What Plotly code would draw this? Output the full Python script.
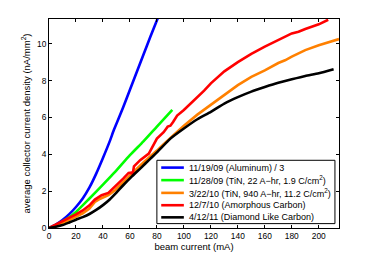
import plotly.graph_objects as go

names = ["11/19/09 (Aluminum) / 3",
         "11/28/09 (TiN, 22 A\u2212hr, 1.9 C/cm<sup>2</sup>)",
         "3/22/10 (TiN, 940 A\u2212hr, 11.2 C/cm<sup>2</sup>)",
         "12/7/10 (Amorphous Carbon)",
         "4/12/11 (Diamond Like Carbon)"]
colors = ["#0000FF", "#00FF00", "#FF8000", "#FF0000", "#000000"]

blue_x = [0, 5, 10, 15, 20, 25, 30, 35, 40, 45, 48, 50, 55, 60, 65, 70, 75, 81]
blue_y = [0, 0.18, 0.43, 0.75, 1.14, 1.6, 2.2, 2.95, 3.8, 4.7, 5.3, 5.65, 6.55, 7.5, 8.45, 9.4, 10.35, 11.45]

green_x = [0, 5, 10, 15, 20, 30, 40, 49, 60, 70, 80, 91.4]
green_y = [0, 0.15, 0.35, 0.58, 0.87, 1.6, 2.35, 3.04, 3.95, 4.7, 5.5, 6.41]

orange_x = [0, 5, 10, 15, 20, 25, 30, 34, 38, 44, 49, 55, 60, 65, 70, 75, 80, 85, 90, 95, 100, 110, 120, 130, 140, 150, 160, 170, 175, 180, 190, 200, 210, 215]
orange_y = [0, 0.1, 0.25, 0.42, 0.6, 0.8, 1.05, 1.41, 1.59, 1.78, 2.05, 2.5, 2.85, 3.2, 3.55, 3.85, 4.2, 4.55, 4.9, 5.25, 5.55, 6.15, 6.7, 7.25, 7.75, 8.2, 8.55, 8.95, 9.1, 9.3, 9.65, 9.92, 10.15, 10.25]

red_x = [0, 5, 10, 15, 20, 25, 30, 34, 39, 44, 49, 55, 59, 61, 62, 63, 67.6, 74, 80, 85, 88, 90, 92, 95, 100, 105, 110, 115, 120, 130, 140, 150, 160, 170, 180, 185, 190, 200, 207]
red_y = [0, 0.18, 0.35, 0.55, 0.74, 0.95, 1.23, 1.54, 1.78, 1.9, 2.23, 2.68, 2.99, 3.0, 2.92, 3.35, 3.68, 4.04, 4.85, 5.2, 5.5, 5.55, 5.75, 6.1, 6.4, 6.75, 7.05, 7.45, 7.85, 8.5, 9.0, 9.45, 9.84, 10.2, 10.56, 10.65, 10.8, 11.05, 11.3]

black_x = [0, 5, 10, 15, 20, 25, 30, 35, 40, 45, 50, 55, 61.5, 68, 75, 80, 90, 100, 110, 120, 130, 140, 150, 160, 170, 180, 190, 200, 211]
black_y = [0, 0.07, 0.16, 0.3, 0.45, 0.59, 0.76, 0.98, 1.24, 1.55, 1.92, 2.32, 2.8, 3.25, 3.75, 4.1, 4.85, 5.4, 5.9, 6.3, 6.75, 7.1, 7.4, 7.65, 7.88, 8.07, 8.25, 8.4, 8.62]

series = [(blue_x, blue_y), (green_x, green_y), (orange_x, orange_y), (red_x, red_y), (black_x, black_y)]
smooth = [True, True, False, False, True]

fig = go.Figure()
for (xs, ys), n, c, s in zip(series, names, colors, smooth):
    fig.add_trace(go.Scatter(x=xs, y=ys, mode="lines", name=n, showlegend=False,
                             line=dict(color=c, width=2.6,
                                       shape="spline" if s else "linear",
                                       smoothing=0.6 if s else None)))

# Manual legend (box, line samples, labels) in paper coordinates
fig.add_shape(type="rect", xref="paper", yref="paper", x0=0.372, x1=0.986,
              y0=0.021, y1=0.324, line=dict(color="black", width=1),
              fillcolor="white", layer="above")
row_y = [0.289, 0.229, 0.168, 0.109, 0.051]
for n, c, yy in zip(names, colors, row_y):
    fig.add_shape(type="line", xref="paper", yref="paper", x0=0.387, x1=0.465,
                  y0=yy, y1=yy, line=dict(color=c, width=2.6), layer="above")
    fig.add_annotation(xref="paper", yref="paper", x=0.475, y=yy, text=n,
                       showarrow=False, xanchor="left", yanchor="middle",
                       font=dict(size=9))

font = "Liberation Sans, Arial, Helvetica, sans-serif"
fig.update_layout(
    width=374, height=256,
    margin=dict(l=49, r=35, t=19, b=28),
    paper_bgcolor="white", plot_bgcolor="white",
    font=dict(family=font, size=8, color="black"),
    showlegend=False,
    xaxis=dict(range=[0, 215], tickvals=list(range(0, 201, 20)),
               ticks="inside", ticklen=3, tickcolor="black",
               showline=True, linecolor="black", linewidth=1, mirror="ticks",
               showgrid=False, zeroline=False, automargin=False,
               tickfont=dict(size=8.4),
               title=dict(text="beam current (mA)", standoff=1, font=dict(size=9.5))),
    yaxis=dict(range=[0, 11.34], tickvals=[0, 2, 4, 6, 8, 10],
               ticks="inside", ticklen=3, tickcolor="black",
               showline=True, linecolor="black", linewidth=1, mirror="ticks",
               showgrid=False, zeroline=False, automargin=False,
               tickfont=dict(size=8.4),
               title=dict(text="average collector current density (nA/mm<sup>2</sup>)", standoff=4, font=dict(size=9.5))),
)

fig.write_html("out.html", config={"displayModeBar": False},
               post_script="document.body.style.margin='0';document.body.style.padding='0';")
